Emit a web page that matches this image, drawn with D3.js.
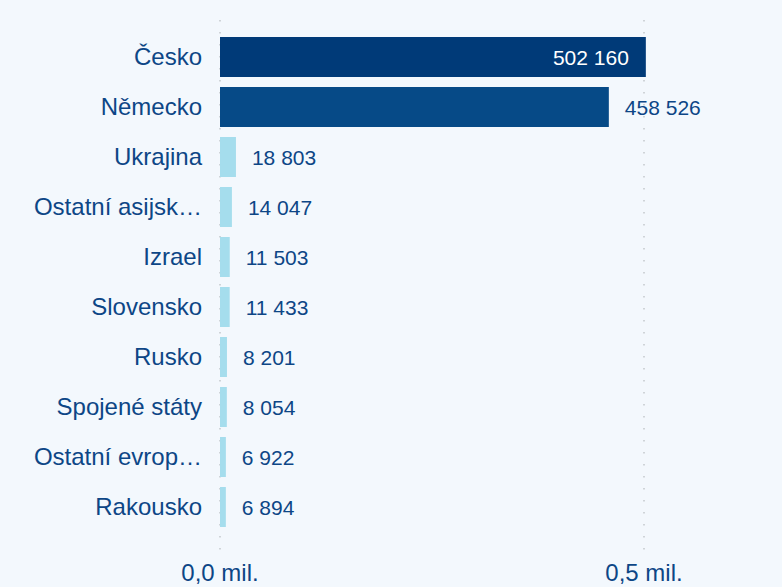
<!DOCTYPE html>
<html>
<head>
<meta charset="utf-8">
<script src="https://cdn.jsdelivr.net/npm/d3@7"></script>
<style>
  html, body { margin: 0; padding: 0; background: #f3f8fd; }
  svg { display: block; font-family: "Liberation Sans", Arial, sans-serif; }
</style>
</head>
<body>
<svg id="chart" width="782" height="587"></svg>
<script>
const countries = ['Česko', 'Německo', 'Ukrajina', 'Ostatní asijsk…', 'Izrael', 'Slovensko', 'Rusko', 'Spojené státy', 'Ostatní evrop…', 'Rakousko'];
const values = [502160, 458526, 18803, 14047, 11503, 11433, 8201, 8054, 6922, 6894];
const barColors = ['#003a78', '#064a87', '#a5dded', '#a5dded', '#a5dded', '#a5dded', '#a5dded', '#a5dded', '#a5dded', '#a5dded'];
const ticks = [0, 500000];
const tickLabels = ['0,0 mil.', '0,5 mil.'];

const svg = d3.select('#chart');
const textColor = '#0d4686';

const x = d3.scaleLinear().domain([0, 500000]).range([220, 644]);
const y = d3.scaleBand().domain(countries).range([32, 532]).paddingInner(0.2).paddingOuter(0.1);

const fmt = v => d3.format(',')(v).replace(/,/g, ' ');

// Dotted gridlines
svg.append('g')
  .selectAll('line')
  .data(ticks)
  .join('line')
  .attr('x1', d => x(d)).attr('x2', d => x(d))
  .attr('y1', 20).attr('y2', 552)
  .attr('stroke', '#c4c8cc')
  .attr('stroke-width', 1.5)
  .attr('stroke-dasharray', '1.5 10.5');

// Tick labels
svg.append('g')
  .attr('fill', textColor)
  .attr('font-size', 24)
  .attr('text-anchor', 'middle')
  .selectAll('text')
  .data(ticks)
  .join('text')
  .attr('x', d => x(d))
  .attr('y', 581)
  .text((d, i) => tickLabels[i]);

// Bars
svg.append('g')
  .selectAll('rect')
  .data(values)
  .join('rect')
  .attr('x', x(0))
  .attr('y', (d, i) => y(countries[i]))
  .attr('width', d => x(d) - x(0))
  .attr('height', y.bandwidth())
  .attr('fill', (d, i) => barColors[i]);

// Category labels
svg.append('g')
  .attr('fill', textColor)
  .attr('font-size', 24)
  .attr('text-anchor', 'end')
  .selectAll('text')
  .data(countries)
  .join('text')
  .attr('x', 202)
  .attr('y', d => y(d) + y.bandwidth() / 2)
  .attr('dy', '0.35em')
  .text(d => d);

// Value labels
svg.append('g')
  .attr('font-size', 21)
  .selectAll('text')
  .data(values)
  .join('text')
  .attr('y', (d, i) => y(countries[i]) + y.bandwidth() / 2 + 1)
  .attr('dy', '0.35em')
  .attr('x', (d, i) => i === 0 ? x(d) - 17 : x(d) + 16)
  .attr('text-anchor', (d, i) => i === 0 ? 'end' : 'start')
  .attr('fill', (d, i) => i === 0 ? '#ffffff' : textColor)
  .text(d => fmt(d));
</script>
</body>
</html>
